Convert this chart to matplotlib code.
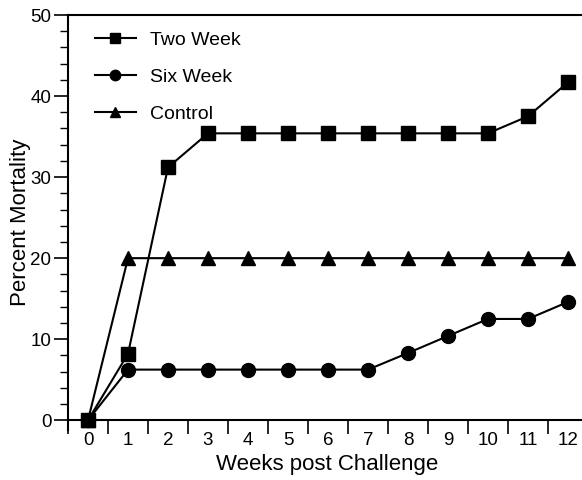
import matplotlib.pyplot as plt
from matplotlib.ticker import MultipleLocator, FixedLocator

plt.rcParams['font.family'] = ['Liberation Sans', 'DejaVu Sans']

weeks = list(range(0, 13))
two_week = [0, 8.2, 31.2, 35.4, 35.4, 35.4, 35.4, 35.4, 35.4, 35.4, 35.4, 37.5, 41.7]
six_week = [0, 6.25, 6.25, 6.25, 6.25, 6.25, 6.25, 6.25, 8.3, 10.4, 12.5, 12.5, 14.6]
control = [0, 20, 20, 20, 20, 20, 20, 20, 20, 20, 20, 20, 20]

fig = plt.figure(figsize=(5.82, 4.8), dpi=100)
ax = fig.add_axes([68 / 582, 1 - 430 / 480, 1 - 68 / 582, (430 - 15) / 480])

ax.plot(weeks, two_week, color='black', lw=1.5, marker='s', ms=9.5, label='Two Week')
ax.plot(weeks, six_week, color='black', lw=1.5, marker='o', ms=10, label='Six Week')
ax.plot(weeks, control, color='black', lw=1.5, marker='^', ms=10, label='Control')

ax.set_xlim(-0.5, 12.35)
ax.set_ylim(-1.2, 50)

ax.spines['right'].set_visible(False)
ax.spines['bottom'].set_position(('data', 0))
for s in ax.spines.values():
    s.set_linewidth(1.5)

# ticks between weeks, labels on weeks
ax.xaxis.set_major_locator(FixedLocator([w + 0.5 for w in range(-1, 12)]))
ax.xaxis.set_minor_locator(FixedLocator(weeks))
ax.tick_params(axis='x', which='major', direction='out', length=10, width=1.2, labelbottom=False)
ax.tick_params(axis='x', which='minor', length=0, pad=8.5, labelsize=13.5)
ax.set_xticklabels([str(w) for w in weeks], minor=True)

ax.yaxis.set_major_locator(MultipleLocator(10))
ax.yaxis.set_minor_locator(MultipleLocator(2))
ax.tick_params(axis='y', which='major', direction='out', length=10, width=1.2, labelsize=13.5, pad=2)
ax.tick_params(axis='y', which='minor', direction='out', length=6, width=1.0)

ax.set_xlabel('Weeks post Challenge', fontsize=16)
ax.xaxis.set_label_coords(0.504, -0.058)
ax.set_ylabel('Percent Mortality', fontsize=16)
ax.yaxis.set_label_coords(-0.072, 0.501)

ax.legend(loc='upper left', frameon=False, fontsize=14, markerscale=0.75,
          handlelength=2.1, handletextpad=0.72, labelspacing=1.0,
          borderaxespad=0, bbox_to_anchor=(0.037, 0.98))

fig.savefig('out.png', dpi=100)
